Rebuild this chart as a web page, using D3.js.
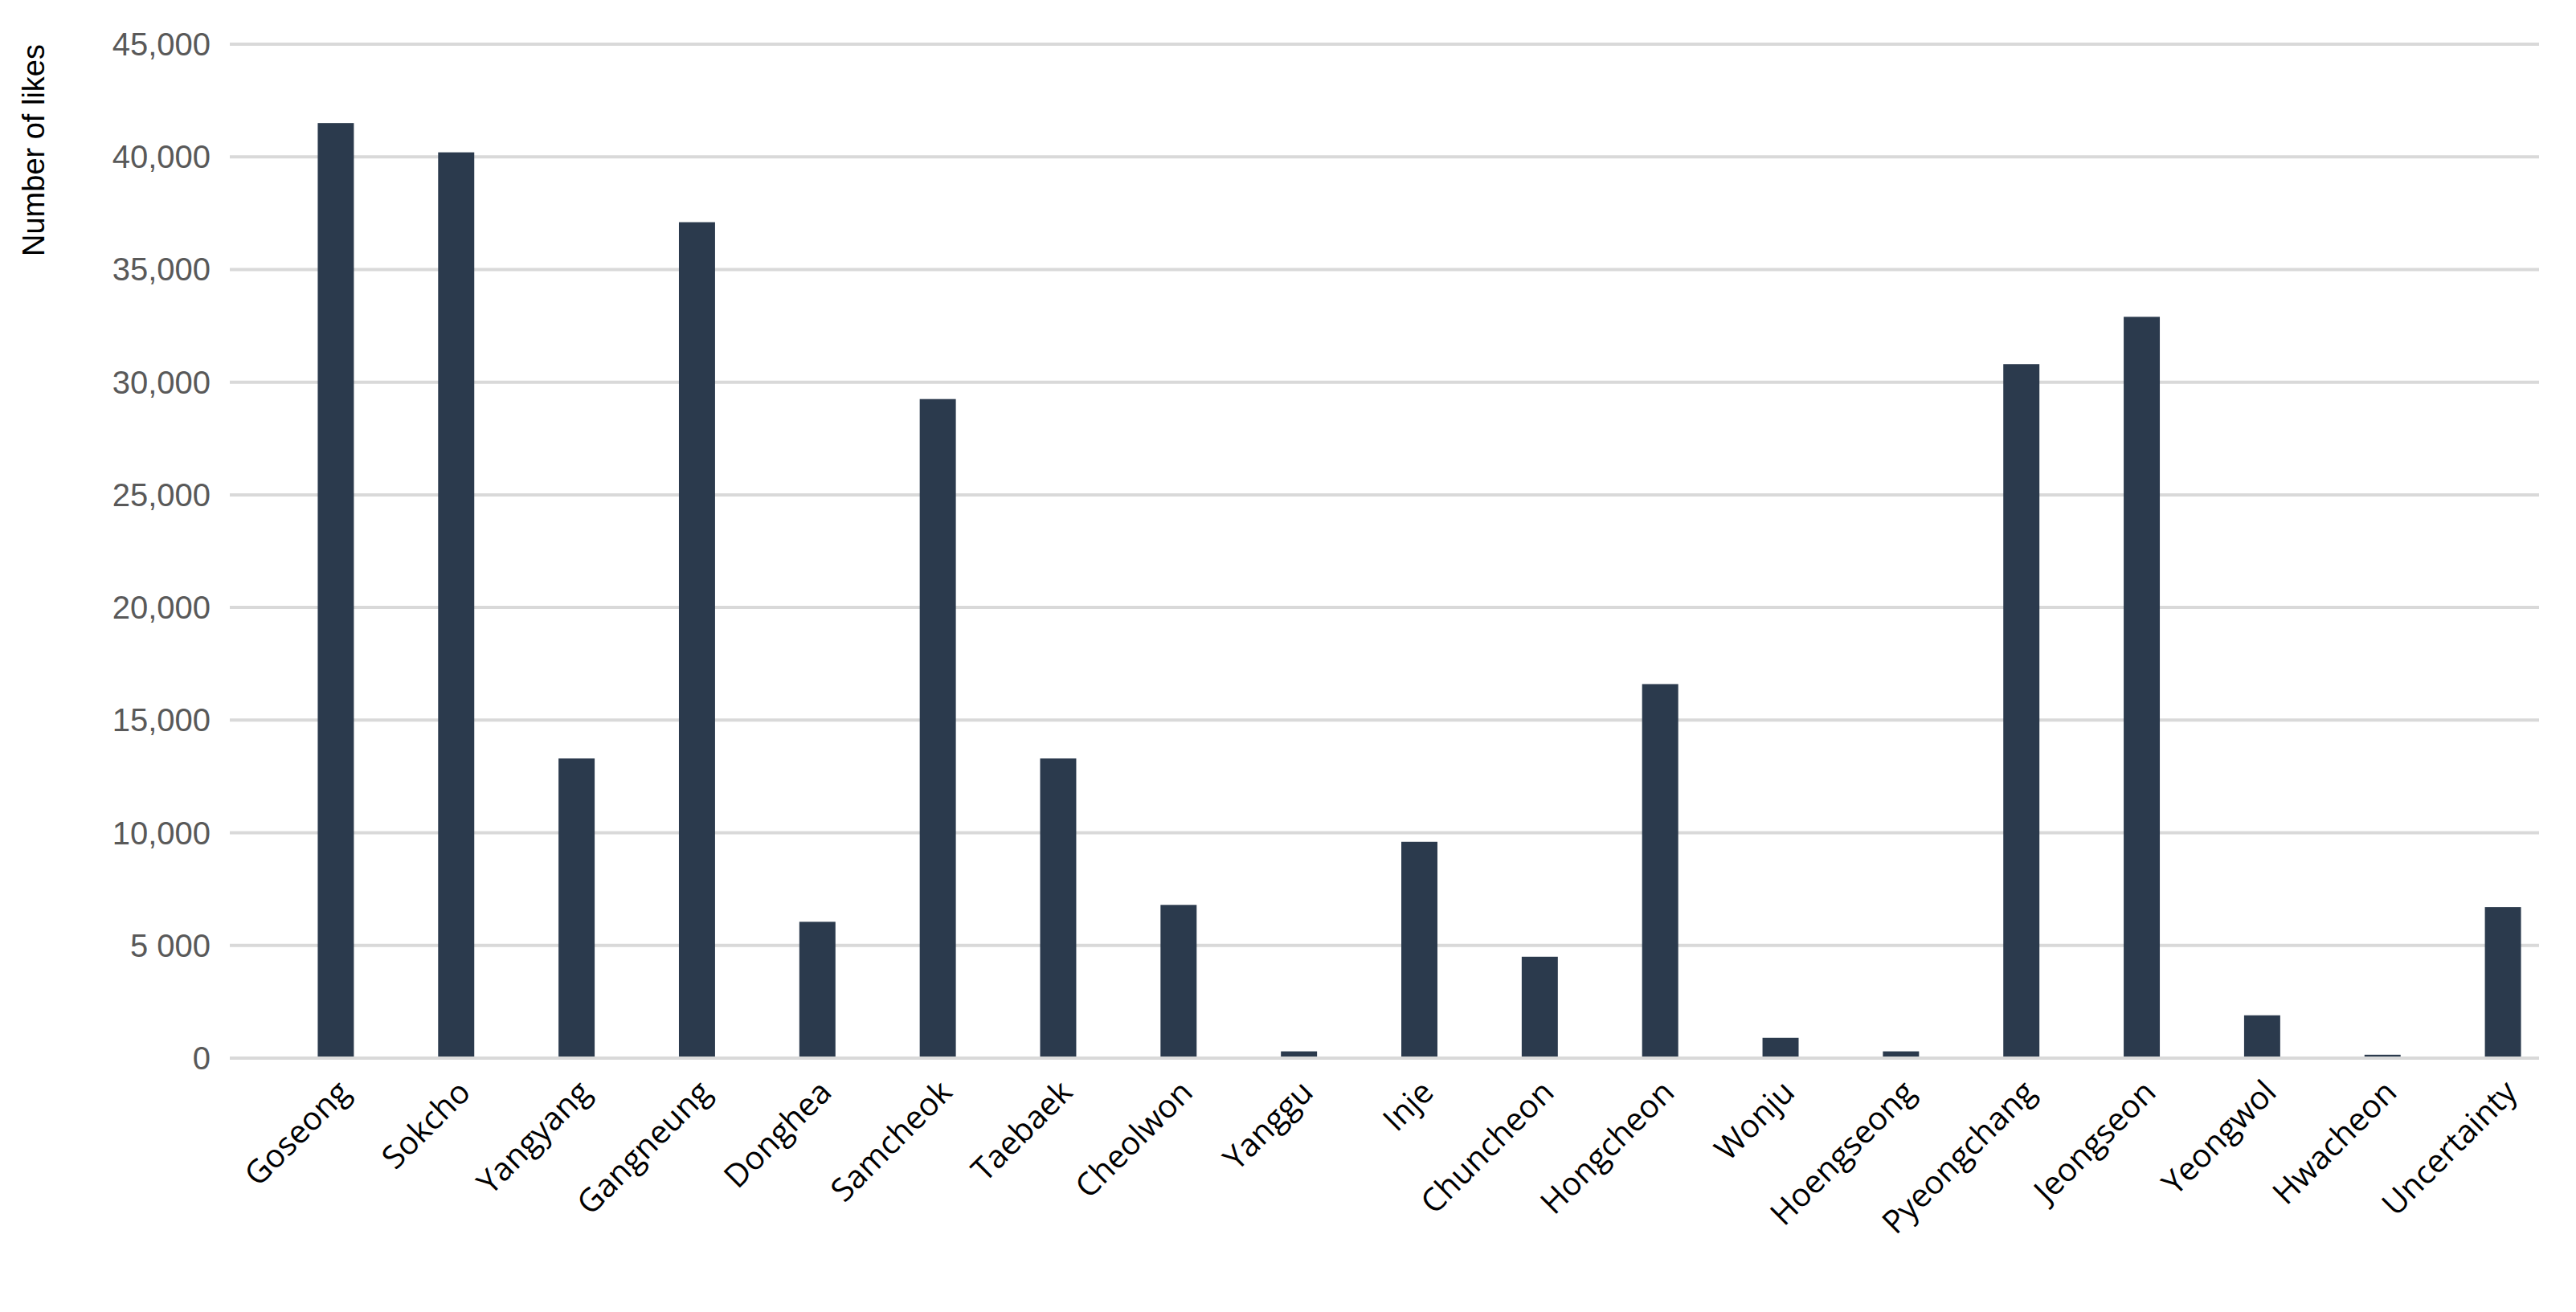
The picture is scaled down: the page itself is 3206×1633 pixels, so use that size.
<!DOCTYPE html>
<html><head><meta charset="utf-8">
<script src="https://cdn.jsdelivr.net/npm/d3@7"></script>
<style>body{margin:0;background:#fff}</style></head>
<body><svg id="c" width="3206" height="1633"></svg>
<script>
const categories = ["Goseong","Sokcho","Yangyang","Gangneung","Donghea","Samcheok","Taebaek","Cheolwon","Yanggu","Inje","Chuncheon","Hongcheon","Wonju","Hoengseong","Pyeongchang","Jeongseon","Yeongwol","Hwacheon","Uncertainty"];
const likes = [41500,40200,13300,37100,6050,29250,13300,6800,300,9600,4500,16600,900,300,30800,32900,1900,150,6700];
const tickValues = [0,5000,10000,15000,20000,25000,30000,35000,40000,45000];
const tickLabels = ["0","5 000","10,000","15,000","20,000","25,000","30,000","35,000","40,000","45,000"];

const svg = d3.select("#c");
const y = d3.scaleLinear().domain([0,45000]).range([1317,55]);
const x = d3.scaleBand().domain(categories).range([343,3190]).paddingInner(0.7).paddingOuter(0.35);
const gridL = 286, gridR = 3160;

svg.append("g").selectAll("line").data(tickValues).join("line")
  .attr("x1",gridL).attr("x2",gridR).attr("y1",d=>y(d)).attr("y2",d=>y(d))
  .attr("stroke","#d9d9d9").attr("stroke-width",4);

svg.append("g").selectAll("text").data(tickValues).join("text")
  .attr("x",282-20).attr("y",d=>y(d)).attr("dy","0.35em").attr("text-anchor","end")
  .attr("font-family","'Liberation Sans Narrow','Liberation Sans',Arial,sans-serif")
  .attr("font-size",40).attr("fill","#595959").text((d,i)=>tickLabels[i]);

svg.append("g").selectAll("rect").data(likes).join("rect")
  .attr("x",(d,i)=>x(categories[i])).attr("width",x.bandwidth())
  .attr("y",d=>y(d)).attr("height",d=>y(0)-y(d)-2).attr("fill","#2b3a4d");

svg.append("g").selectAll("text").data(categories).join("text")
  .attr("transform",d=>`translate(${x(d)+x.bandwidth()/2+10},${1352}) rotate(-45)`)
  .attr("text-anchor","end").attr("dy","0.35em")
  .attr("font-family","'Open Sans','Liberation Sans',sans-serif")
  .attr("font-size",40).attr("fill","#000").text(d=>d);

svg.append("text").attr("transform","translate(42,55) rotate(-90)")
  .attr("text-anchor","end").attr("dy","0.35em")
  .attr("font-family","'Liberation Sans',Arial,sans-serif")
  .attr("font-size",38).attr("fill","#000").text("Number of likes");
</script></body></html>
